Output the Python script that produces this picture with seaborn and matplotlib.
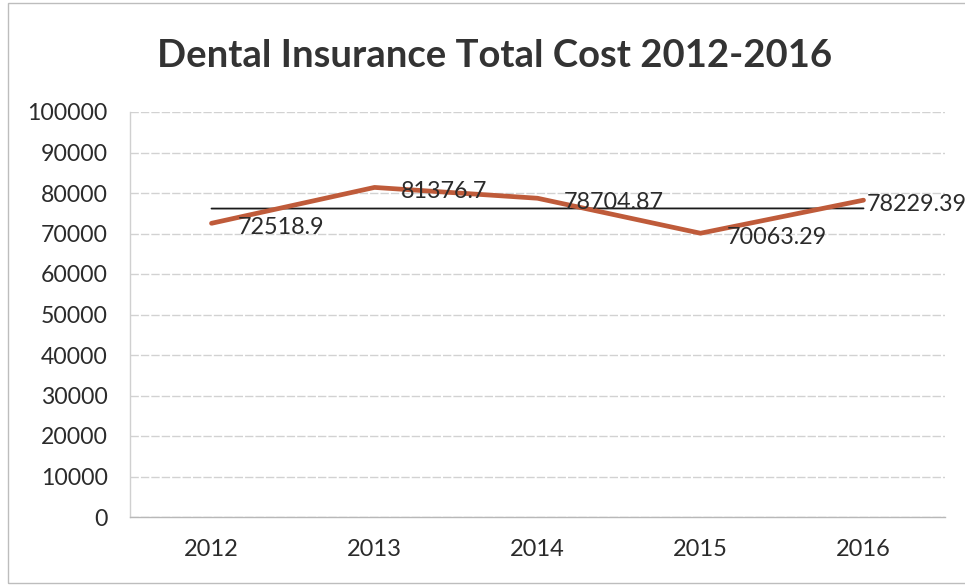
import numpy as np
import pandas as pd
import seaborn as sns
import matplotlib.pyplot as plt
from matplotlib.patches import Rectangle

years = ["2012", "2013", "2014", "2015", "2016"]
total_cost = [72518.9, 81376.7, 78704.87, 70063.29, 78229.39]
cost_labels = ["72518.9", "81376.7", "78704.87", "70063.29", "78229.39"]
y_ticks = [0, 10000, 20000, 30000, 40000, 50000, 60000, 70000, 80000, 90000, 100000]

df = pd.DataFrame({"year": years, "cost": total_cost})

sns.set_theme(style="white")
plt.rcParams["font.family"] = ["Lato", "DejaVu Sans"]

W, H = 965, 586
fig = plt.figure(figsize=(W / 100, H / 100), dpi=100)
ax = fig.add_axes([130 / W, (H - 517) / H, (945 - 130) / W, (517 - 112) / H])

line_color = "#BF5B3A"
text_color = "#2b2b2b"

sns.lineplot(data=df, x="year", y="cost", ax=ax, color=line_color,
             linewidth=3.4, sort=False, zorder=3)

# linear trendline across the five years
xs = np.arange(len(years))
slope, intercept = np.polyfit(xs, total_cost, 1)
ax.plot(xs, slope * xs + intercept, color="#1a1a1a", linewidth=1.3, zorder=2)

# value labels to the right of each point; the last one hugs its point
label_dx = [19, 19, 19, 19, 2]
for i, (v, lab) in enumerate(zip(total_cost, cost_labels)):
    ax.annotate(lab, (i, v), xytext=(label_dx[i], -3), textcoords="offset points",
                ha="left", va="center", fontsize=16.8, color=text_color,
                zorder=4, annotation_clip=False)

ax.set_xlim(-0.5, len(years) - 0.5)
ax.set_ylim(0, 100000)
ax.set_yticks(y_ticks)
ax.set_yticklabels([str(t) for t in y_ticks])
ax.grid(axis="y", color="#d2d2d2", linewidth=1.0, linestyle=(0, (6, 1.5)))
ax.set_axisbelow(True)

for side in ["top", "right"]:
    ax.spines[side].set_visible(False)
ax.spines["left"].set_color("#d0d0d0")
ax.spines["bottom"].set_color("#b8b8b8")
ax.spines["left"].set_linewidth(1.0)
ax.spines["bottom"].set_linewidth(1.0)

# category axis: tick marks between categories
ax.set_xticks(np.arange(-0.5, len(years), 1.0), minor=True)
ax.tick_params(axis="x", which="minor", length=6, color="#b8b8b8", width=1.0,
               direction="out")
ax.tick_params(axis="x", which="major", length=0, labelsize=17,
               labelcolor=text_color, pad=16)
ax.tick_params(axis="y", length=0, labelsize=16.6, labelcolor=text_color, pad=16)
ax.set_xlabel("")
ax.set_ylabel("")

fig.text(495 / W, 1 - 67 / H, "Dental Insurance Total Cost 2012-2016",
         ha="center", va="baseline", fontsize=27.5, fontweight="bold",
         color="#333333")

# chart border
fig.patches.append(Rectangle((8 / W, 3 / H), (W - 4) / W, (H - 6) / H,
                             transform=fig.transFigure, fill=False,
                             edgecolor="#bdbdbd", linewidth=1.0))

fig.savefig("out.png", dpi=100, facecolor="white")
